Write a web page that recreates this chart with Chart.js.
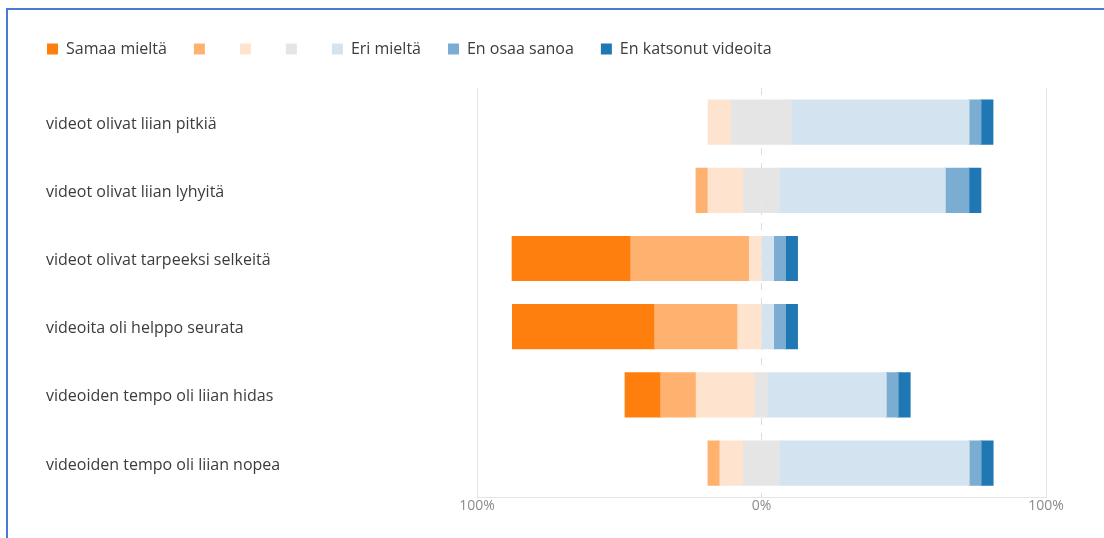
<!DOCTYPE html>
<html>
<head>
<meta charset="utf-8">
<script src="https://cdn.jsdelivr.net/npm/chart.js@4.4.1/dist/chart.umd.min.js"></script>
<style>
  html, body { margin: 0; padding: 0; background: #fff; }
  #wrap { position: relative; width: 1104px; height: 538px; overflow: hidden; }
  #frame { position: absolute; left: 6px; top: 8px; width: 1200px; height: 600px;
           border-left: 2px solid #4a7bd4; border-top: 2px solid #4a7bd4; pointer-events: none; }
  canvas { position: absolute; left: 0; top: 0; }
</style>
</head>
<body>
<div id="wrap">
  <canvas id="c" width="1104" height="538"></canvas>
  <div id="frame"></div>
</div>
<script>
// ---- data (percent of respondents) ----
const categories = [
  'videot olivat liian pitkiä',
  'videot olivat liian lyhyitä',
  'videot olivat tarpeeksi selkeitä',
  'videoita oli helppo seurata',
  'videoiden tempo oli liian hidas',
  'videoiden tempo oli liian nopea'
];
const seriesNames = ['Samaa mieltä', '', '', '', 'Eri mieltä', 'En osaa sanoa', 'En katsonut videoita'];
const samaaMielta   = [0,    0,    41.7, 50.0, 12.5, 0];
const melkoSamaa    = [0,    4.2,  41.7, 29.2, 12.5, 4.2];
const hiemanSamaa   = [8.3,  12.5, 4.2,  8.3,  20.8, 8.3];
const neutraali     = [20.8, 12.5, 0,    0,    4.2,  12.5];
const eriMielta     = [62.5, 58.3, 4.2,  4.2,  41.7, 66.7];
const enOsaaSanoa   = [4.2,  8.3,  4.2,  4.2,  4.2,  4.2];
const enKatsonut    = [4.2,  4.2,  4.2,  4.2,  4.2,  4.2];
const tickValues = [-100, 0, 100];

const colors = ['#ff7f0e', '#ffb270', '#fee3ce', '#e5e5e5', '#d3e4f0', '#7badd3', '#1f77b4'];

const neg = a => a.map(v => -v);
const datasets = [
  { label: seriesNames[3], data: neutraali.map(v => -v / 2), backgroundColor: colors[3] },
  { label: seriesNames[2], data: neg(hiemanSamaa), backgroundColor: colors[2] },
  { label: seriesNames[1], data: neg(melkoSamaa), backgroundColor: colors[1] },
  { label: seriesNames[0], data: neg(samaaMielta), backgroundColor: colors[0] },
  { label: seriesNames[3], data: neutraali.map(v => v / 2), backgroundColor: colors[3] },
  { label: seriesNames[4], data: eriMielta, backgroundColor: colors[4] },
  { label: seriesNames[5], data: enOsaaSanoa, backgroundColor: colors[5] },
  { label: seriesNames[6], data: enKatsonut, backgroundColor: colors[6] }
];
const legendOrder = [3, 2, 1, 0, 5, 6, 7];

const FONT = "'Open Sans', 'Noto Sans', sans-serif";

const legendMargin = {
  id: 'legendMargin',
  beforeInit(chart) {
    const orig = chart.legend.fit;
    chart.legend.fit = function () { orig.bind(chart.legend)(); this.height += 21; };
  }
};
const shiftYLabels = {
  id: 'shiftYLabels',
  afterLayout(chart) { chart.scales.y.left = 46; }
};

new Chart(document.getElementById('c'), {
  type: 'bar',
  data: { labels: categories,
          datasets: datasets.map(d => Object.assign(d, {
            borderWidth: 0,
            inflateAmount: ctx => (ctx.raw ? 0.6 : 0)
          })) },
  options: {
    indexAxis: 'y',
    responsive: false,
    animation: false,
    events: [],
    layout: { padding: { left: 20, right: 58, top: 14, bottom: 24 } },
    datasets: { bar: { categoryPercentage: 1, barPercentage: 0.645 } },
    plugins: {
      tooltip: { enabled: false },
      legend: {
        position: 'top',
        align: 'start',
        labels: {
          boxWidth: 11, boxHeight: 11, padding: 27,
          color: '#3c3c3c',
          font: { family: FONT, size: 16 },
          filter: item => item.datasetIndex !== 4,
          sort: (a, b) => legendOrder.indexOf(a.datasetIndex) - legendOrder.indexOf(b.datasetIndex)
        }
      }
    },
    scales: {
      x: {
        stacked: true, min: -100, max: 100,
        afterBuildTicks: s => { s.ticks = tickValues.map(v => ({ value: v })); },
        ticks: { color: '#8c8c8c', font: { family: FONT, size: 14 }, padding: 0,
                 callback: v => Math.abs(v) + '%' },
        grid: { color: ctx => ctx.tick && ctx.tick.value === 0 ? '#dcdcdc' : '#e4e4e4',
                drawTicks: false, lineWidth: 1 },
        border: { display: true, color: '#e4e4e4',
                  dash: ctx => (ctx.tick && ctx.tick.value === 0) ? [7, 8] : [] }
      },
      y: {
        stacked: true,
        afterFit: s => { s.width = 457; },
        grid: { display: false },
        border: { display: false },
        ticks: { crossAlign: 'far', labelOffset: 2, color: '#3c3c3c', font: { family: FONT, size: 16 } }
      }
    }
  },
  plugins: [legendMargin, shiftYLabels]
});
</script>
</body>
</html>
